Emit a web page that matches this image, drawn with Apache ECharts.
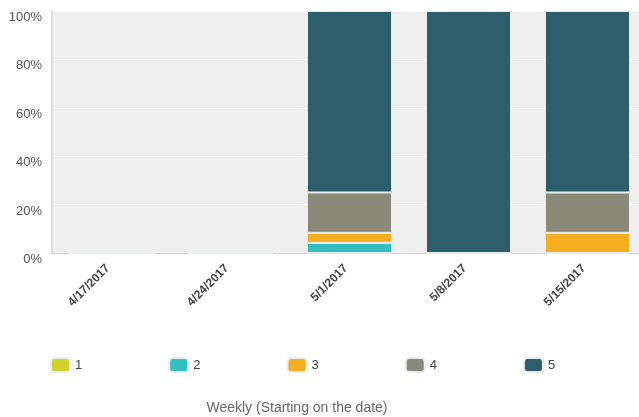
<!DOCTYPE html>
<html>
<head>
<meta charset="utf-8">
<script src="https://cdn.jsdelivr.net/npm/echarts@6/dist/echarts.min.js"></script>
<style>html,body{margin:0;padding:0;background:#fff}#c{width:639px;height:417px}</style>
</head>
<body>
<div id="c"></div>
<script>
const categories = ['4/17/2017', '4/24/2017', '5/1/2017', '5/8/2017', '5/15/2017'];
const seriesNames = ['1', '2', '3', '4', '5'];
const s1 = [0, 0, 0, 0, 0];
const s2 = [0, 0, 4.17, 0, 0];
const s3 = [0, 0, 4.17, 0, 8.33];
const s4 = [0, 0, 16.67, 0, 16.67];
const s5 = [0, 0, 75.0, 100, 75.0];
const colors = ['#d0d12a', '#33bfc0', '#f5ae1f', '#898a77', '#2e5e6b'];
const yTicks = [0, 20, 40, 60, 80, 100];

const values = [s1, s2, s3, s4, s5];
const font = 'Liberation Sans, Arial, sans-serif';
const chart = echarts.init(document.getElementById('c'));
chart.setOption({
  animation: false,
  color: colors,
  title: {
    text: 'Weekly (Starting on the date)',
    left: 292, top: 396, textAlign: 'center',
    textStyle: {fontSize: 14, fontWeight: 'normal', color: '#666', fontFamily: font}
  },
  legend: {
    data: seriesNames,
    left: 45, top: 352,
    itemWidth: 19, itemHeight: 14, itemGap: 86,
    icon: 'roundRect',
    textStyle: {fontSize: 13, color: '#444', fontFamily: font},
    selectedMode: false
  },
  grid: {
    left: 52, width: 595, top: 11, height: 242,
    outerBoundsMode: 'none',
    show: true, backgroundColor: '#efefef', borderWidth: 0
  },
  xAxis: {
    type: 'category', data: categories,
    axisLine: {show: true, lineStyle: {color: '#cfcfcf', width: 1}},
    axisTick: {show: false},
    axisLabel: {rotate: 45, interval: 0, fontSize: 12, fontWeight: 'bold', color: '#444',
      fontFamily: font, margin: 10, padding: [0, 5, 0, 0]}
  },
  yAxis: {
    type: 'value', min: 0, max: 100, interval: 20,
    axisLine: {show: true, lineStyle: {color: '#dcdcdc', width: 2}},
    axisTick: {show: false},
    splitLine: {show: true, lineStyle: {color: '#f8f8f8', width: 1}},
    axisLabel: {
      formatter: v => yTicks.includes(v) ? v + '%' : '',
      fontSize: 13, color: '#555', fontFamily: font, margin: 10, verticalAlign: 'top'
    }
  },
  series: seriesNames.map((n, i) => ({
    name: n, type: 'bar', stack: 'total', barWidth: 85,
    data: values[i],
    itemStyle: {color: colors[i], borderColor: '#e8eef0', borderWidth: 1}
  }))
});
</script>
</body>
</html>
